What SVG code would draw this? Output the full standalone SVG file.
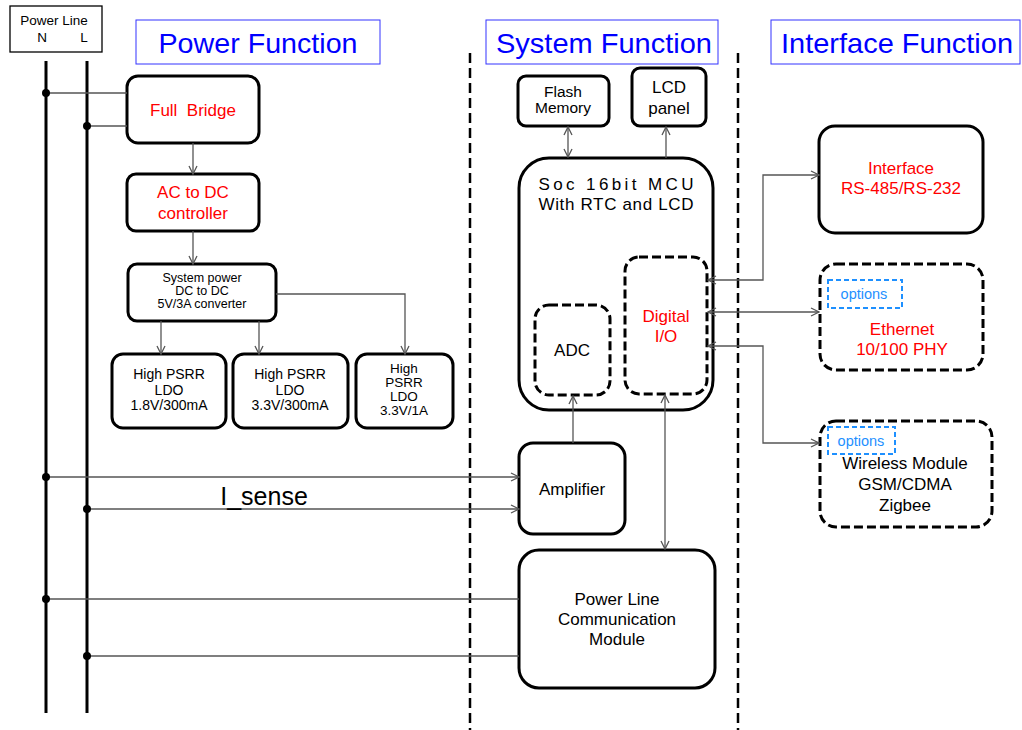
<svg xmlns="http://www.w3.org/2000/svg" width="1022" height="730" viewBox="0 0 1022 730">
<defs>
<marker id="ah" viewBox="0 0 10 10" refX="9" refY="5" markerWidth="10" markerHeight="10" markerUnits="userSpaceOnUse" orient="auto-start-reverse">
<path d="M1,1 L9,5 L1,9" fill="none" stroke="#555" stroke-width="1.3"/>
</marker>
<style>
text{font-family:"Liberation Sans",Arial,sans-serif;text-anchor:middle;}
.box{fill:#fff;stroke:#000;stroke-width:3;}
.dbox{fill:none;stroke:#000;stroke-width:3;stroke-dasharray:9,4;}
.obox{fill:none;stroke:#1e90ff;stroke-width:2;stroke-dasharray:5,3;}
.tbox{fill:#fff;stroke:#3333ff;stroke-width:1;}
.title{font-size:28px;fill:#0000ff;}
.red{fill:#ff0000;font-size:17px;}
.blk{fill:#000;font-size:17px;}
.opt{fill:#1e90ff;font-size:14.5px;}
.c{fill:none;stroke:#555;stroke-width:1.3;}
.a{marker-end:url(#ah);}
.aa{marker-end:url(#ah);marker-start:url(#ah);}
.sep{stroke:#000;stroke-width:2.5;stroke-dasharray:10,5;}
.rail{stroke:#000;stroke-width:3;}
</style>
</defs>

<g id="separators">
<line class="sep" x1="470" y1="53" x2="470" y2="730"/>
<line class="sep" x1="738" y1="53" x2="738" y2="730"/>
</g>

<g id="titles">
<g id="title-power"><rect class="tbox" x="136" y="20" width="244" height="44"/><text class="title" x="258" y="53" textLength="199" lengthAdjust="spacingAndGlyphs">Power Function</text></g>
<g id="title-system"><rect class="tbox" x="486" y="20" width="232" height="44"/><text class="title" x="604" y="53" textLength="216" lengthAdjust="spacingAndGlyphs">System Function</text></g>
<g id="title-interface"><rect class="tbox" x="771" y="20" width="249" height="44"/><text class="title" x="897" y="53" textLength="232" lengthAdjust="spacingAndGlyphs">Interface Function</text></g>
</g>

<g id="powerline">
<rect x="10" y="6" width="92" height="46" fill="#fff" stroke="#000" stroke-width="1.3"/>
<text x="54" y="25" style="font-size:13.5px">Power Line</text>
<text x="42" y="42" style="font-size:13.5px">N</text>
<text x="84" y="42" style="font-size:13.5px">L</text>
<line class="rail" x1="46" y1="61" x2="46" y2="713"/>
<line class="rail" x1="87" y1="61" x2="87" y2="713"/>
</g>

<g id="full-bridge"><rect class="box" x="127" y="76" width="132" height="67" rx="11"/><text class="red" x="193" y="116" xml:space="preserve">Full  Bridge</text></g>
<g id="ac-dc"><rect class="box" x="127" y="174" width="132" height="57" rx="9"/><text class="red" x="193" y="198">AC to DC</text><text class="red" x="193" y="219">controller</text></g>
<g id="dcdc"><rect class="box" x="128" y="264" width="148" height="57" rx="9"/>
<text x="202" y="282" style="font-size:12.5px">System power</text>
<text x="202" y="295" style="font-size:12.5px">DC to DC</text>
<text x="202" y="308" style="font-size:12.5px">5V/3A converter</text></g>
<g id="ldo1"><rect class="box" x="112" y="354" width="114" height="74" rx="11"/>
<text x="169" y="379" style="font-size:14px">High PSRR</text><text x="169" y="395" style="font-size:14px">LDO</text><text x="169" y="410" style="font-size:14px">1.8V/300mA</text></g>
<g id="ldo2"><rect class="box" x="233" y="354" width="115" height="74" rx="11"/>
<text x="290" y="379" style="font-size:14px">High PSRR</text><text x="290" y="395" style="font-size:14px">LDO</text><text x="290" y="410" style="font-size:14px">3.3V/300mA</text></g>
<g id="ldo3"><rect class="box" x="356" y="354" width="97" height="74" rx="11"/>
<text x="404" y="373" style="font-size:13.5px">High</text><text x="404" y="387" style="font-size:13.5px">PSRR</text><text x="404" y="401" style="font-size:13.5px">LDO</text><text x="404" y="415" style="font-size:13.5px">3.3V/1A</text></g>

<g id="flash"><rect class="box" x="518" y="76" width="91" height="50" rx="8"/><text x="563" y="97" style="font-size:15.5px">Flash</text><text x="563" y="113" style="font-size:15.5px">Memory</text></g>
<g id="lcd"><rect class="box" x="632" y="68" width="74" height="58" rx="8"/><text class="blk" x="669" y="93" style="font-size:17px">LCD</text><text class="blk" x="669" y="114" style="font-size:17px">panel</text></g>
<g id="mcu"><rect class="box" x="519" y="158" width="194" height="252" rx="30"/>
<text class="blk" x="616" y="190" textLength="155" lengthAdjust="spacing">Soc 16bit MCU</text>
<text class="blk" x="616" y="210" textLength="155" lengthAdjust="spacing">With RTC and LCD</text></g>
<g id="adc"><rect class="dbox" x="535" y="305" width="75" height="90" rx="14"/><text class="blk" x="572" y="356">ADC</text></g>
<g id="dio"><rect class="dbox" x="625" y="257" width="82" height="137" rx="14"/><text class="red" x="666" y="322">Digital</text><text class="red" x="666" y="342">I/O</text></g>
<g id="amplifier"><rect class="box" x="519" y="443" width="106" height="91" rx="14"/><text x="572" y="495" style="font-size:17px">Amplifier</text></g>
<g id="plc"><rect class="box" x="519" y="550" width="196" height="138" rx="20"/>
<text x="617" y="605" style="font-size:17px">Power Line</text><text x="617" y="625" style="font-size:17px">Communication</text><text x="617" y="645" style="font-size:17px">Module</text></g>

<g id="interface"><rect class="box" x="819" y="126" width="164" height="107" rx="16"/><text class="red" x="901" y="174">Interface</text><text class="red" x="901" y="194">RS-485/RS-232</text></g>
<g id="ethernet"><rect class="dbox" x="820" y="264" width="163" height="106" rx="16"/>
<rect class="obox" x="828" y="280" width="74" height="28"/><text class="opt" x="864" y="299">options</text>
<text class="red" x="902" y="335">Ethernet</text><text class="red" x="902" y="355">10/100 PHY</text></g>
<g id="wireless"><rect class="dbox" x="820" y="421" width="172" height="106" rx="16"/>
<rect class="obox" x="828" y="427" width="67" height="27"/><text class="opt" x="861" y="446">options</text>
<text class="blk" x="905" y="469">Wireless Module</text><text class="blk" x="905" y="490">GSM/CDMA</text><text class="blk" x="905" y="511">Zigbee</text></g>

<g id="connectors">
<line class="c" x1="46" y1="93" x2="127" y2="93"/>
<line class="c" x1="87" y1="126" x2="127" y2="126"/>
<line class="c a" x1="193" y1="143" x2="193" y2="174"/>
<line class="c a" x1="193" y1="231" x2="193" y2="264"/>
<line class="c a" x1="161" y1="321" x2="161" y2="354"/>
<line class="c a" x1="259" y1="321" x2="259" y2="354"/>
<polyline class="c a" points="276,294 405,294 405,354"/>
<line class="c a" x1="46" y1="477" x2="519" y2="477"/>
<line class="c a" x1="87" y1="509" x2="519" y2="509"/>
<line class="c" x1="46" y1="599" x2="519" y2="599"/>
<line class="c" x1="87" y1="656" x2="519" y2="656"/>
<line class="c a" x1="573" y1="443" x2="573" y2="396"/>
<line class="c aa" x1="665" y1="549" x2="665" y2="395"/>
<line class="c aa" x1="568" y1="127" x2="568" y2="157"/>
<line class="c a" x1="666" y1="158" x2="666" y2="127"/>
<polyline class="c aa" points="708,280 763,280 763,175 819,175"/>
<line class="c aa" x1="708" y1="312" x2="819" y2="312"/>
<polyline class="c aa" points="708,346 763,346 763,443 819,443"/>
<circle cx="46" cy="93" r="4"/>
<circle cx="87" cy="126" r="4"/>
<circle cx="46" cy="477" r="4"/>
<circle cx="87" cy="509" r="4"/>
<circle cx="46" cy="599" r="4"/>
<circle cx="87" cy="656" r="4"/>
<text x="264" y="505" style="font-size:25px">I_sense</text>
</g>
</svg>
